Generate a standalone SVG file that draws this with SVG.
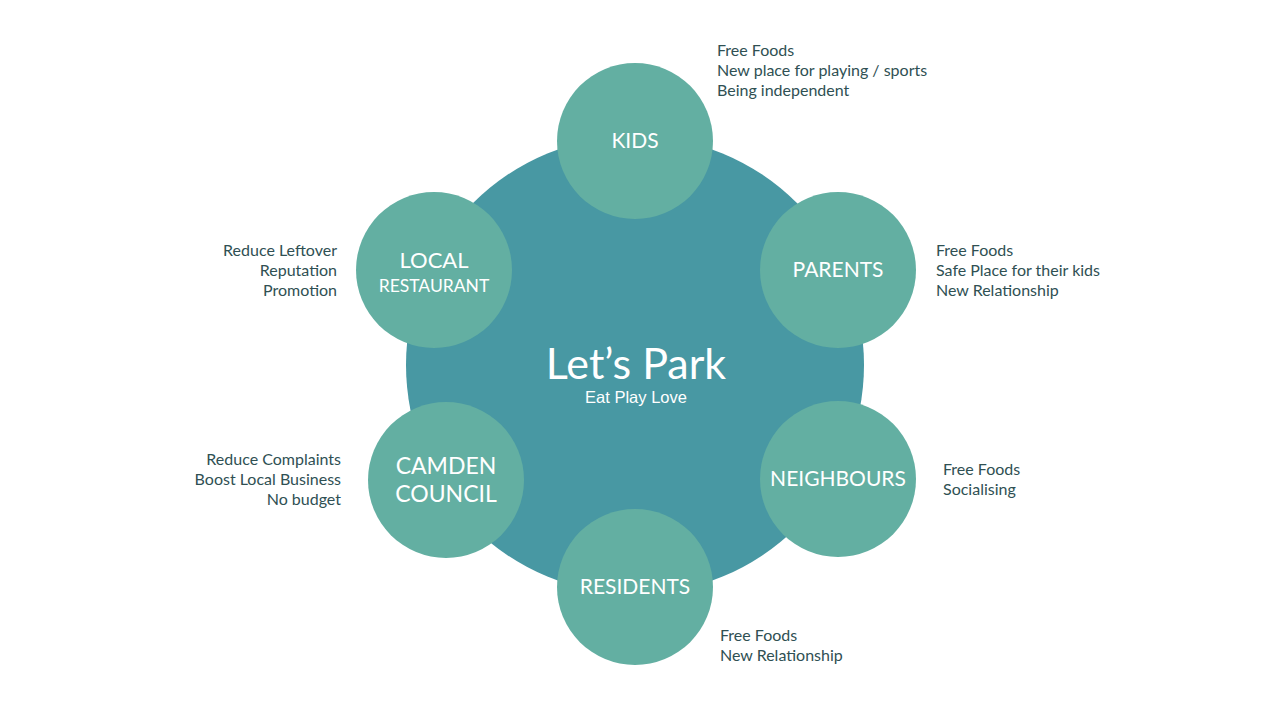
<svg xmlns="http://www.w3.org/2000/svg" width="1280" height="720" viewBox="0 0 1280 720">
<style>
.hub{fill:#4898a3}
.node{fill:#63afa2}
.lbl{font-family:Lato,"Open Sans",sans-serif;fill:#ffffff;text-anchor:middle;font-size:21px}
.note{font-family:Lato,"Open Sans",sans-serif;fill:#2f5053;font-size:16px}
.r{text-anchor:end}
</style>
<rect width="1280" height="720" fill="#ffffff"/>
<g id="center">
<circle class="hub" cx="635" cy="365" r="229"/>
<text x="636" y="379" font-family="Lato,'Open Sans',sans-serif" font-size="43" fill="#ffffff" text-anchor="middle">Let’s Park</text>
<text x="636" y="403" font-family="'Liberation Sans',Arial,sans-serif" font-size="16.5" fill="#ffffff" text-anchor="middle">Eat Play Love</text>
</g>
<g id="connectors"></g>
<g id="kids">
<circle class="node" cx="635" cy="141" r="78"/>
<text class="lbl" x="635" y="148">KIDS</text>
<text class="note" x="717" y="56">Free Foods</text>
<text class="note" x="717" y="76">New place for playing / sports</text>
<text class="note" x="717" y="96">Being independent</text>
</g>
<g id="parents">
<circle class="node" cx="838" cy="270" r="78"/>
<text class="lbl" x="838" y="277">PARENTS</text>
<text class="note" x="936" y="256">Free Foods</text>
<text class="note" x="936" y="276">Safe Place for their kids</text>
<text class="note" x="936" y="296">New Relationship</text>
</g>
<g id="neighbours">
<circle class="node" cx="838" cy="479" r="78"/>
<text class="lbl" x="838" y="486">NEIGHBOURS</text>
<text class="note" x="943" y="475">Free Foods</text>
<text class="note" x="943" y="495">Socialising</text>
</g>
<g id="residents">
<circle class="node" cx="635" cy="587" r="78"/>
<text class="lbl" x="635" y="594">RESIDENTS</text>
<text class="note" x="720" y="641">Free Foods</text>
<text class="note" x="720" y="661">New Relationship</text>
</g>
<g id="camden">
<circle class="node" cx="446" cy="480" r="78"/>
<text class="lbl" x="446" y="474" style="font-size:23px">CAMDEN</text>
<text class="lbl" x="446" y="502" style="font-size:23px">COUNCIL</text>
<text class="note r" x="341" y="465">Reduce Complaints</text>
<text class="note r" x="341" y="485">Boost Local Business</text>
<text class="note r" x="341" y="505">No budget</text>
</g>
<g id="local">
<circle class="node" cx="434" cy="270" r="78"/>
<text class="lbl" x="434" y="268" style="font-size:22px">LOCAL</text>
<text class="lbl" x="434" y="292" style="font-size:17.5px">RESTAURANT</text>
<text class="note r" x="337" y="256">Reduce Leftover</text>
<text class="note r" x="337" y="276">Reputation</text>
<text class="note r" x="337" y="296">Promotion</text>
</g>
</svg>
